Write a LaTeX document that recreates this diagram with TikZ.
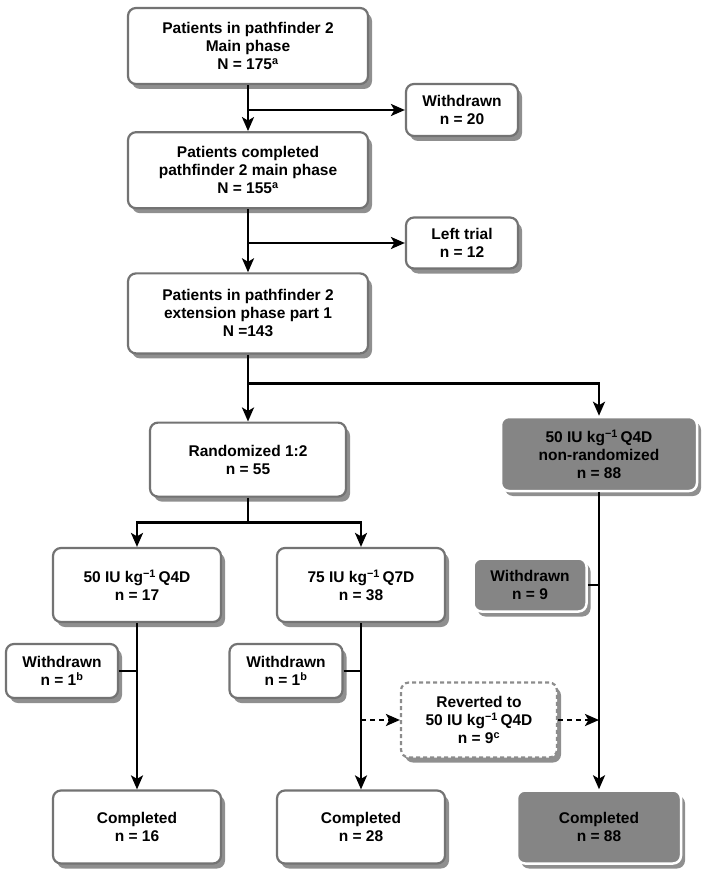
\documentclass[tikz,border=0pt]{standalone}
\usepackage{fontspec}
\setmainfont{Liberation Sans}
\usetikzlibrary{positioning,arrows.meta,shadows,calc}

\begin{document}
\begin{tikzpicture}[x=1pt, y=-1pt,
  box/.style={draw=black!55, fill=white, rounded corners=8pt, line width=2.2pt, align=center,
              font=\fontsize{15.5}{18}\selectfont\bfseries, inner sep=2pt,
              drop shadow={shadow xshift=4pt, shadow yshift=-5pt, fill=black!80, opacity=0.55}},
  greybox/.style={box, fill=black!48, draw=white, line width=2.5pt},
  revbox/.style={box, draw=black!45, dash pattern=on 4pt off 3pt},
  flow/.style={-{Stealth[length=14pt, width=12pt, inset=3.5pt]}, line width=2.8pt},
  link/.style={line width=2.8pt},
  dflow/.style={flow, dash pattern=on 5pt off 4pt},
  node distance=46pt]
\useasboundingbox (0,0) rectangle (709,882);
% main column
\node[box, minimum width=240pt, minimum height=76pt] (p1) at (248,46) {Patients in pathfinder 2\\Main phase\\N = 175\textsuperscript{a}};
\node[box, minimum width=240pt, minimum height=76pt, below=of p1] (p2) {Patients completed\\pathfinder 2 main phase\\N = 155\textsuperscript{a}};
\node[box, minimum width=240pt, minimum height=80pt, below=63pt of p2] (p3) {Patients in pathfinder 2\\extension phase part 1\\N =143};
\node[box, minimum width=196pt, minimum height=74pt, below=67pt of p3] (rnd) {Randomized 1:2\\n = 55};
\node[greybox, minimum width=196pt, minimum height=74pt] (nr) at (599,454) {50 IU kg\textsuperscript{−1}\,Q4D\\non-randomized\\n = 88};
% arms
\node[box, minimum width=168pt, minimum height=74pt] (a50) at (137,585) {50 IU kg\textsuperscript{−1}\,Q4D\\n = 17};
\node[box, minimum width=168pt, minimum height=74pt] (a75) at (361,585) {75 IU kg\textsuperscript{−1}\,Q7D\\n = 38};
\node[box, minimum width=168pt, minimum height=73pt] (c16) at (137,827) {Completed\\n = 16};
\node[box, minimum width=168pt, minimum height=73pt] (c28) at (361,827) {Completed\\n = 28};
\node[greybox, minimum width=164pt, minimum height=73pt] (c88) at (599,827) {Completed\\n = 88};
% side boxes
\node[box, minimum width=112pt, minimum height=52pt] (wd1) at (462,110) {Withdrawn\\n = 20};
\node[box, minimum width=112pt, minimum height=51pt] (lt) at (462,243) {Left trial\\n = 12};
\node[box, minimum width=112pt, minimum height=54pt] (wdl) at (62,671) {Withdrawn\\n = 1\textsuperscript{b}};
\node[box, minimum width=113pt, minimum height=54pt] (wdm) at (286,671) {Withdrawn\\n = 1\textsuperscript{b}};
\node[greybox, minimum width=113pt, minimum height=53pt] (wdr) at (530,585) {Withdrawn\\n = 9};
\node[revbox, minimum width=156pt, minimum height=75pt] (rev) at (479,720) {Reverted to\\50 IU kg\textsuperscript{−1}\,Q4D\\n = 9\textsuperscript{c}};
% connectors
\coordinate (s1) at ($(p3.south)!0.43!(rnd.north)$);
\coordinate (s2) at ($(rnd.south)!0.5!(rnd.south |- a50.north)$);
\draw[flow] (p1) -- (p2);
\draw[flow] (wd1.west -| p1.south) -- (wd1.west);
\draw[flow] (p2) -- (p3);
\draw[flow] (lt.west -| p2.south) -- (lt.west);
\draw[flow] (p3) -- (rnd);
\draw[flow] (s1) -| (nr.north);
\draw[flow] (rnd.south) -- (s2) -| (a50.north);
\draw[flow] (s2) -| (a75.north);
\draw[flow] (a50) -- (c16);
\draw[flow] (a75) -- (c28);
\draw[flow] (nr) -- (c88);
\draw[link] (wdl.east) -- (wdl.east -| a50.south);
\draw[link] (wdm.east) -- (wdm.east -| a75.south);
\draw[link] (wdr.east) -- (wdr.east -| nr.south);
\draw[dflow] (rev.west -| a75.south) -- (rev.west);
\draw[dflow] (rev.east) -- (rev.east -| nr.south);
\end{tikzpicture}
\end{document}
